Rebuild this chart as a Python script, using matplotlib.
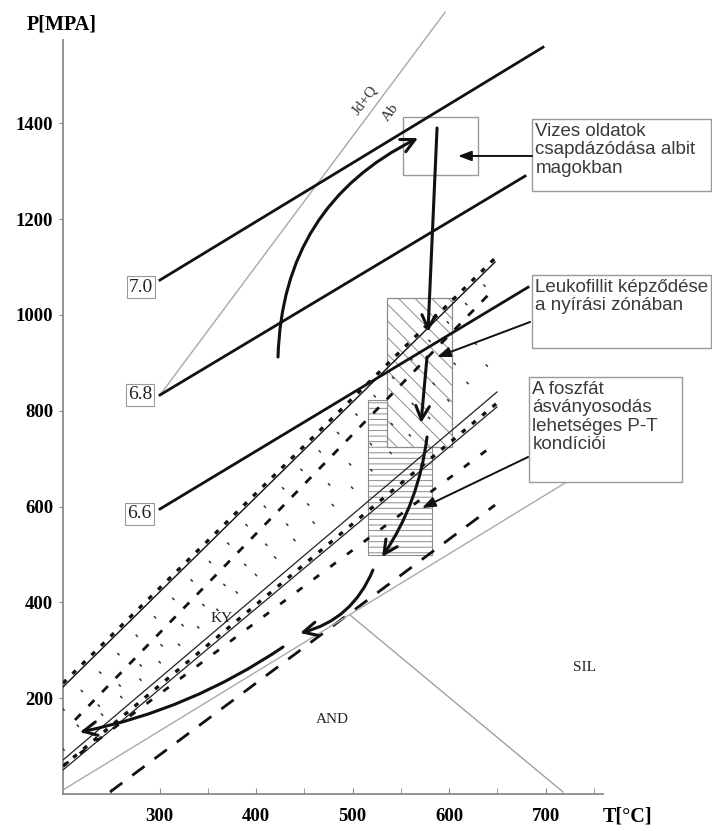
#!/usr/bin/env python3
"""P-T path diagram (Ky/And/Sil field, isopleths, fluid inclusion box)."""
import matplotlib
matplotlib.use("Agg")
import matplotlib.pyplot as plt
from matplotlib.patches import Rectangle

INK, GREY, TXT = "#111111", "#8a8a8a", "#3a3a3a"
SERIF = "Liberation Serif"
SANS = "Liberation Sans"
plt.rcParams["hatch.linewidth"] = 0.7

# ---- axes
t_ticks = [300, 400, 500, 600, 700]
t_minor = [250, 350, 450, 550, 650, 750]
p_ticks = [200, 400, 600, 800, 1000, 1200, 1400]

# ---- isopleths (T, P at both ends) and their labels
iso_labels = ["7.0", "6.8", "6.6"]
iso_T = [(300.5, 697.4), (300.5, 678.8), (300.5, 681.9)]
iso_P = [(1073, 1559), (833, 1290), (595, 1058)]
iso_label_T = [280.8, 279.8, 278.8]
iso_label_P = [1058, 833, 585]

# ---- Ab = Jd + Q reaction line
ab_T = [300.5, 595.9]
ab_P = [833, 1632]

# ---- band lines (start T, start P, end T, end P)
band_T0 = [200, 212.4, 200, 200, 200, 200, 200, 200, 248.7, 200]
band_P0 = [223.4, 154.5, 175.4, 112.7, 91.9, 71.0, 50.1, 58.5, 4.2, 8.4]
band_T1 = [647.7, 647.7, 647.7, 647.7, 647.7, 649.7, 649.7, 647.7, 647.7, 720.2]
band_P1 = [1110.6, 1056.4, 1083.5, 979.1, 910.2, 839.2, 808.0, 730.7, 603.3, 649.3]

# ---- And = Sil boundary
andsil_T = [497.4, 718.1]
andsil_P = [373.7, 4.2]

# ---- boxes: (T0, T1, P0, P1)
incl_box = (552.3, 630.1, 1292.3, 1413.4)
hatch_h = (516.1, 582.4, 499.0, 822.5)
hatch_d = (535.8, 603.1, 724.4, 1035.5)

# ---- P-T path arrows: start (T, P), end (T, P), curvature
path_start = [(422.8, 912.3), (587.6, 1390.4), (577.2, 912.3), (577.2, 745.3),
              (521.2, 467.6), (428.0, 306.9)]
path_end = [(567.9, 1369.5), (578.2, 964.5), (571.0, 774.5), (530.6, 494.8),
            (445.6, 336.0), (217.6, 129.4)]
path_rad = [-0.3, 0.0, 0.0, -0.12, -0.25, -0.1]

# ---- callouts
note_text = ["Vizes oldatok\ncsapdázódása albit\nmagokban",
             "Leukofillit képződése\na nyírási zónában",
             "A foszfát\násványosodás\nlehetséges P-T\nkondíciói"]
note_box = [(686.0, 871.0, 1258.9, 1409.2),
            (686.0, 871.0, 931.1, 1083.5),
            (682.9, 841.5, 651.4, 870.6)]
note_from = [(686.0, 1332.0), (684.0, 985.4), (681.9, 703.5)]
note_to = [(609.3, 1332.0), (587.6, 912.3), (572.0, 597.1)]

field_labels = ["KY", "AND", "SIL"]
field_T = [364.8, 478.8, 740.9]
field_P = [367.4, 154.5, 265.1]

fig = plt.figure(figsize=(7.12, 8.31), dpi=100)
ax = fig.add_axes([63 / 712, 37 / 831, 649 / 712, 794 / 831])
ax.set_xlim(200, 872.5)
ax.set_ylim(0, 1657.6)

for s in ("top", "right"):
    ax.spines[s].set_visible(False)
for s in ("left", "bottom"):
    ax.spines[s].set_color(GREY)
    ax.spines[s].set_linewidth(1.3)
ax.spines["left"].set_bounds(0, 1574)
ax.spines["bottom"].set_bounds(200, 760)

ax.set_xticks(t_ticks)
ax.set_xticks(t_minor, minor=True)
ax.set_xticklabels([str(v) for v in t_ticks], fontfamily=SERIF,
                   fontweight="bold", fontsize=13.5)
ax.set_yticks(p_ticks)
ax.set_yticklabels([str(v) for v in p_ticks], fontfamily=SERIF,
                   fontweight="bold", fontsize=13.5)
ax.tick_params(axis="x", which="both", direction="in", length=4, pad=10,
               color=GREY)
ax.tick_params(axis="y", direction="out", length=3, pad=4, color=GREY)

fig.text(62 / 712, 1 - 25 / 831, "P[MPA]", ha="center", va="center",
         fontfamily=SERIF, fontweight="bold", fontsize=14.5)
ax.text(784.5, -48, "T[°C]", ha="center", va="center", fontfamily=SERIF,
        fontweight="bold", fontsize=14.5, clip_on=False)

# hatched fields
ax.add_patch(Rectangle((hatch_h[0], hatch_h[2]), hatch_h[1] - hatch_h[0],
                       hatch_h[3] - hatch_h[2], facecolor="white",
                       edgecolor="#8c8c8c", hatch="---", lw=0.8, zorder=1))
ax.add_patch(Rectangle((hatch_d[0], hatch_d[2]), hatch_d[1] - hatch_d[0],
                       hatch_d[3] - hatch_d[2], facecolor="white",
                       edgecolor="#8c8c8c", hatch="\\\\", lw=0.9, zorder=1.5))
ax.add_patch(Rectangle((incl_box[0], incl_box[2]), incl_box[1] - incl_box[0],
                       incl_box[3] - incl_box[2], facecolor="none",
                       edgecolor="#999999", lw=1.0, zorder=2))

# band lines
band_styles = [
    dict(color=INK, lw=1.0, ls="-"),
    dict(color=INK, lw=2.0, ls=(0, (3, 4))),
    dict(color="#333333", lw=2.2, ls=(0, (0.5, 8))),
    dict(color="#333333", lw=2.2, ls=(3, (0.5, 9))),
    dict(color="#333333", lw=2.2, ls=(0, (0.5, 8))),
    dict(color="#222222", lw=0.9, ls="-"),
    dict(color="#222222", lw=0.9, ls="-"),
    dict(color=INK, lw=2.0, ls=(0, (2.5, 5))),
    dict(color=INK, lw=2.0, ls=(0, (5.5, 4.5))),
    dict(color="#aaaaaa", lw=1.0, ls="-"),
]
for t0, p0, t1, p1, st in zip(band_T0, band_P0, band_T1, band_P1, band_styles):
    ax.plot([t0, t1], [p0, p1], zorder=3, **st)
# tick decoration on the upper boundary and on the Ky line
for i in (0, 6):
    ax.plot([band_T0[i], band_T1[i]], [band_P0[i] + 8, band_P1[i] + 8],
            color=INK, lw=2.4, ls=(0, (1.4, 2.6)), zorder=3)

ax.plot(andsil_T, andsil_P, color="#a0a0a0", lw=1.0, zorder=2)

# Ab = Jd + Q
ax.plot(ab_T, ab_P, color="#a8a8a8", lw=1.0, zorder=2)
ax.text(513, 1449, "Jd+Q", rotation=53, ha="center", va="center",
        fontfamily=SERIF, fontsize=11, color="#333333")
ax.text(540, 1422, "Ab", rotation=53, ha="center", va="center",
        fontfamily=SERIF, fontsize=11, color="#333333")

# isopleths
for lab, ts, ps, lt, lp in zip(iso_labels, iso_T, iso_P, iso_label_T, iso_label_P):
    ax.plot(ts, ps, color=INK, lw=2.0, zorder=4)
    ax.text(lt, lp, lab, ha="center", va="center", fontfamily=SERIF,
            fontsize=14, color="#222222", zorder=5,
            bbox=dict(boxstyle="square,pad=0.12", facecolor="white",
                      edgecolor="#999999", lw=0.8))

for lab, t, p in zip(field_labels, field_T, field_P):
    ax.text(t, p, lab, ha="center", va="center", fontfamily=SERIF,
            fontsize=11, color="#222222", zorder=5)

# P-T path
for (t0, p0), (t1, p1), r in zip(path_start, path_end, path_rad):
    ax.annotate("", xy=(t1, p1), xytext=(t0, p0), zorder=6,
                arrowprops=dict(arrowstyle="->,head_length=0.7,head_width=0.35",
                                lw=2.2, color=INK, shrinkA=0, shrinkB=0,
                                mutation_scale=14,
                                connectionstyle=f"arc3,rad={r}"))

# callout boxes
for txt, (t0, t1, p0, p1), (fa, fb), (ta, tb) in zip(note_text, note_box,
                                                     note_from, note_to):
    ax.add_patch(Rectangle((t0, p0), t1 - t0, p1 - p0, facecolor="white",
                           edgecolor="#999999", lw=1.0, zorder=5, clip_on=False))
    ax.text(t0 + 3.5, p1 - 8, txt, ha="left", va="top", fontfamily=SANS,
            fontsize=13.5, color=TXT, linespacing=1.12, zorder=6)
    ax.annotate("", xy=(ta, tb), xytext=(fa, fb), zorder=6,
                arrowprops=dict(arrowstyle="-|>,head_length=0.8,head_width=0.3",
                                lw=1.4, color=INK, shrinkA=0, shrinkB=0,
                                mutation_scale=10))

fig.savefig("out.png", dpi=100)
